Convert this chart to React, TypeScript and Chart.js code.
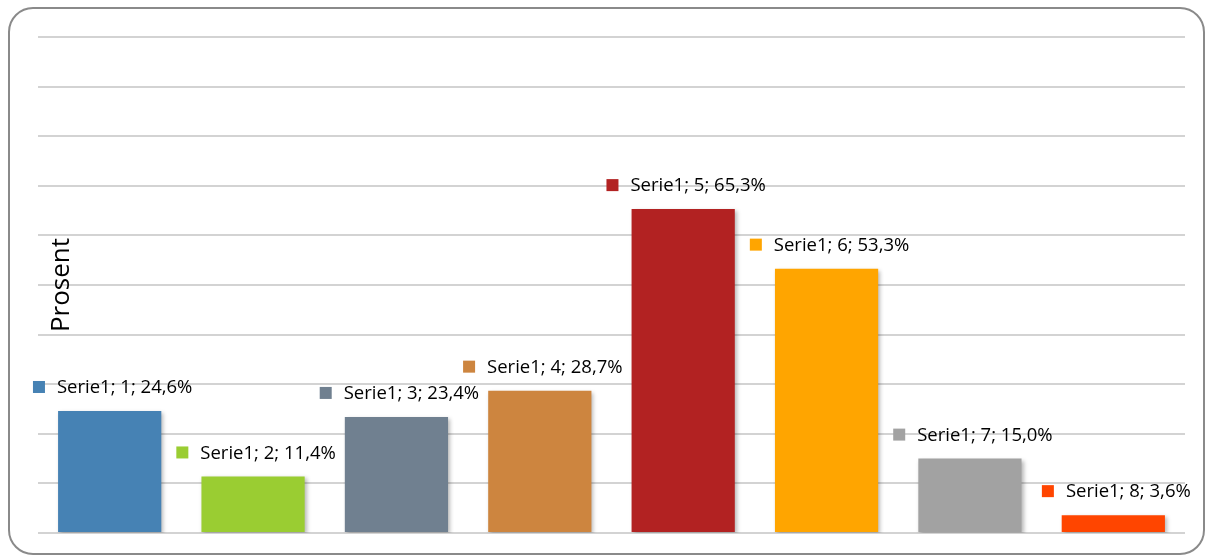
import React, { useEffect, useRef } from "react";
import { Chart, registerables } from "chart.js";

Chart.register(...registerables);

const seriesName = "Serie1";
const categories = ["1", "2", "3", "4", "5", "6", "7", "8"];
const values = [24.6, 11.4, 23.4, 28.7, 65.3, 53.3, 15.0, 3.6];
const barColors = ["#4682B4", "#9ACD32", "#708090", "#CD853F", "#B22222", "#FFA500", "#A2A2A2", "#FF4500"];
const yTitle = "Prosent";

const FONT = "'Open Sans', sans-serif";

const shadowPlugin = {
  id: "barShadow",
  beforeDatasetsDraw(chart: any) {
    const ctx = chart.ctx;
    ctx.save();
    ctx.shadowColor = "rgba(0,0,0,0.28)";
    ctx.shadowBlur = 4;
    ctx.shadowOffsetX = 2;
    ctx.shadowOffsetY = 2;
  },
  afterDatasetsDraw(chart: any) {
    chart.ctx.restore();
  },
};

const labelPlugin = {
  id: "dataLabelsCustom",
  afterDraw(chart: any) {
    const ctx = chart.ctx;
    const meta = chart.getDatasetMeta(0);
    ctx.save();
    ctx.font = `18.5px ${FONT}`;
    ctx.textBaseline = "middle";
    ctx.textAlign = "left";
    meta.data.forEach((bar: any, i: number) => {
      const text = `${seriesName}; ${categories[i]}; ${values[i].toFixed(1).replace(".", ",")}%`;
      const tw = ctx.measureText(text).width;
      const sq = 12;
      const gap = 12;
      const total = sq + gap + tw;
      const x0 = bar.x - total / 2 + 3;
      const yc = bar.y - 24;
      ctx.fillStyle = barColors[i];
      ctx.fillRect(x0, yc - sq / 2, sq, sq);
      ctx.fillStyle = "#000000";
      ctx.fillText(text, x0 + sq + gap, yc + 1);
    });
    // y-axis title inside plot area
    ctx.font = `26px ${FONT}`;
    ctx.textAlign = "center";
    ctx.textBaseline = "middle";
    ctx.translate(62, 285);
    ctx.rotate(-Math.PI / 2);
    ctx.fillStyle = "#000000";
    ctx.fillText(yTitle, 0, 0);
    ctx.restore();
  },
};

export default function App() {
  const ref = useRef<HTMLCanvasElement>(null);
  useEffect(() => {
    if (!ref.current) return;
    const chart = new Chart(ref.current, {
      type: "bar",
      data: {
        labels: categories,
        datasets: [
          {
            label: seriesName,
            data: values,
            backgroundColor: barColors,
            borderWidth: 0,
            barPercentage: 0.72,
            categoryPercentage: 1,
          },
        ],
      },
      options: {
        animation: false,
        responsive: false,
        maintainAspectRatio: false,
        layout: { padding: { left: 38, right: 23, top: 37, bottom: 25 } },
        plugins: { legend: { display: false }, tooltip: { enabled: false }, title: { display: false } },
        scales: {
          x: { display: false },
          y: {
            min: 0,
            max: 100,
            ticks: { display: false, stepSize: 10 },
            border: { display: false },
            grid: { color: "#d3d3d3", lineWidth: 2, drawTicks: false },
          },
        },
      },
      plugins: [shadowPlugin, labelPlugin],
    });
    return () => chart.destroy();
  }, []);
  return (
    <div style={{ position: "fixed", left: 0, top: 0, width: 1208, height: 558, background: "#fff" }}>
      <div
        style={{
          position: "absolute",
          left: 8,
          top: 7,
          width: 1197,
          height: 548,
          border: "2px solid #8a8a8a",
          borderRadius: 25,
          boxSizing: "border-box",
        }}
      />
      <canvas ref={ref} width={1208} height={558} style={{ position: "absolute", left: 0, top: 0 }} />
    </div>
  );
}
